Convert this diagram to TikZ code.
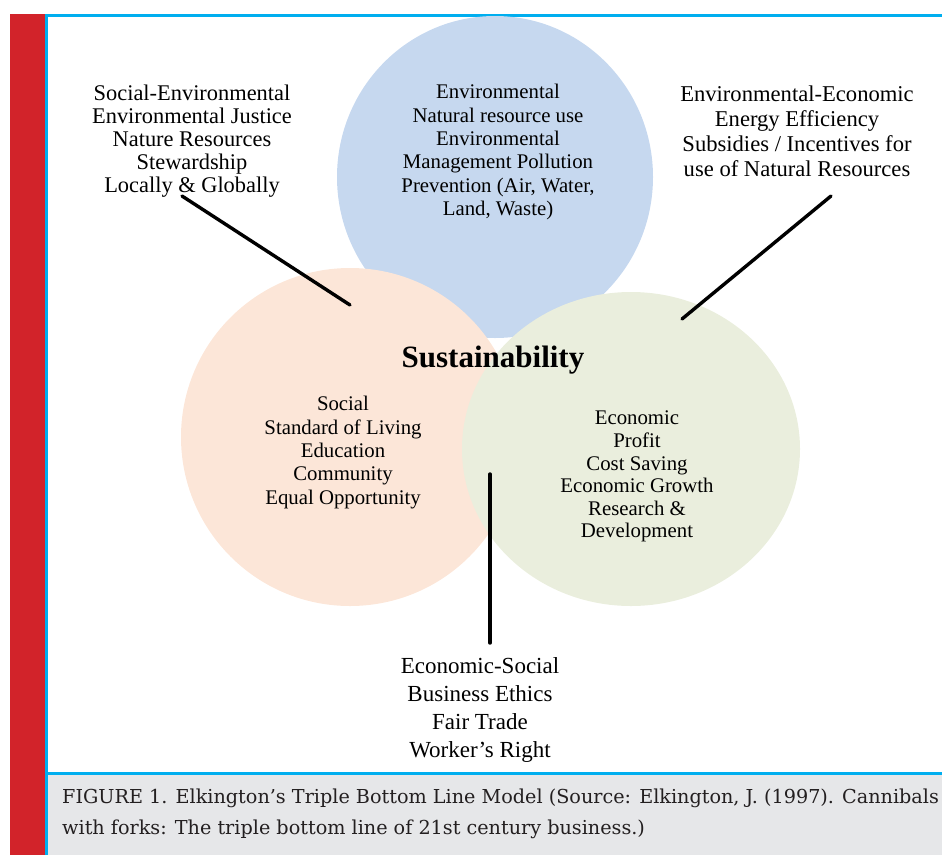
\documentclass[tikz,border=0pt]{standalone}
\usepackage{fontspec}
\setmainfont{Liberation Serif}
\newfontfamily\captionfont{DejaVu Serif}
\usetikzlibrary{shapes.geometric}

\definecolor{figred}{HTML}{D2232A}
\definecolor{frameblue}{HTML}{00AEEF}
\definecolor{capgray}{HTML}{E6E7E9}
\definecolor{captext}{HTML}{231F20}
\definecolor{envblue}{HTML}{C6D8EF}
\definecolor{socpeach}{HTML}{FCE6D8}
\definecolor{ecogreen}{HTML}{EAEEDD}

\begin{document}
\begin{tikzpicture}[x=1pt,y=-1pt,
  pillar/.style={ellipse, inner sep=0pt, draw=none},
  label/.style={align=center, inner sep=0pt, anchor=north, text=black},
  corner/.style={label, font=\fontsize{22.4}{23}\selectfont},
  inside/.style={label, font=\fontsize{20.8}{23.4}\selectfont},
  link/.style={line width=3.4pt, line cap=round, black}]
\useasboundingbox (0,0) rectangle (942,855);

% page frame: red side bar, blue rules, grey caption band
\fill[figred] (10,14) rectangle (45,855);
\fill[capgray] (48,775) rectangle (942,855);
\fill[frameblue] (45,14) rectangle (942,17);
\fill[frameblue] (45,14) rectangle (48,855);
\fill[frameblue] (48,772) rectangle (942,775);

% the three pillars
\node[pillar, fill=envblue, minimum width=316pt, minimum height=322pt] (env) at (495,177) {};
\node[pillar, fill=socpeach, minimum width=338pt, minimum height=338pt] (soc) at (350,437) {};
\node[pillar, fill=ecogreen, minimum width=338pt, minimum height=314pt] (eco) at (631,449) {};

% pillar texts
\node[inside] (envtxt) at (498,84) {Environmental\\Natural resource use\\Environmental\\Management Pollution\\Prevention (Air, Water,\\Land, Waste)};
\node[inside] (soctxt) at (343,396) {Social\\Standard of Living\\Education\\Community\\Equal Opportunity};
\node[inside, font=\fontsize{20.8}{22.6}\selectfont] (ecotxt) at (637,411) {Economic\\Profit\\Cost Saving\\Economic Growth\\Research \&\\Development};

\node[label, font=\fontsize{31}{34}\selectfont\bfseries] (sust) at (493,346) {Sustainability};

% overlap labels
\node[corner] (socenv) at (192,85) {Social-Environmental\\Environmental Justice\\Nature Resources\\Stewardship\\Locally \& Globally};
\node[corner, font=\fontsize{22.6}{25}\selectfont] (enveco) at (797,86) {Environmental-Economic\\Energy Efficiency\\Subsidies / Incentives for\\use of Natural Resources};
\node[corner, font=\fontsize{23}{28}\selectfont] (ecosoc) at (480,657) {Economic-Social\\Business Ethics\\Fair Trade\\Worker's Right};

% pointer lines
\coordinate (p1a) at (182,196);
\coordinate (p1b) at (350,305);
\coordinate (p2a) at (831,196);
\coordinate (p2b) at (682,319);
\coordinate (p3a) at (490,474);
\coordinate (p3b) at (490,643);
\draw[link] (p1a) -- (p1b);
\draw[link] (p2a) -- (p2b);
\draw[link] (p3a) -- (p3b);

% caption
\node[anchor=north west, align=left, inner sep=0pt, text=captext,
      font=\captionfont\fontsize{19.2}{30.5}\selectfont] (caption) at (62,789)
  {FIGURE 1. Elkington’s Triple Bottom Line Model (Source: Elkington, J. (1997). Cannibals\\
   with forks: The triple bottom line of 21st century business.)};
\end{tikzpicture}
\end{document}
